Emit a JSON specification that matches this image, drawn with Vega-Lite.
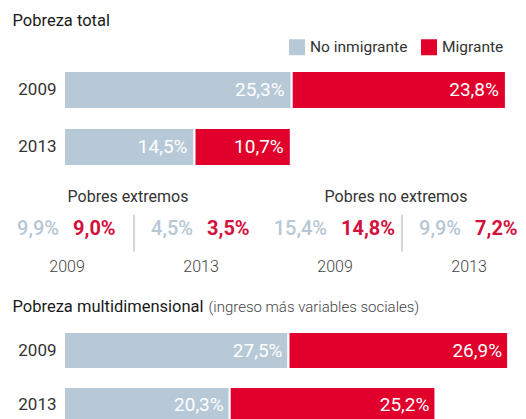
{
  "$schema": "https://vega.github.io/schema/vega-lite/v6.json",
  "padding": {"left": 0, "top": 12, "right": 0, "bottom": 0},
  "background": "white",
  "config": {
    "font": "Roboto",
    "view": {"stroke": null},
    "concat": {"spacing": 9}
  },
  "datasets": {
    "total": [
      {"anio": "2009", "serie": "No inmigrante", "v": 25.3},
      {"anio": "2009", "serie": "Migrante", "v": 23.8},
      {"anio": "2013", "serie": "No inmigrante", "v": 14.5},
      {"anio": "2013", "serie": "Migrante", "v": 10.7}
    ],
    "multi": [
      {"anio": "2009", "serie": "No inmigrante", "v": 27.5},
      {"anio": "2009", "serie": "Migrante", "v": 26.9},
      {"anio": "2013", "serie": "No inmigrante", "v": 20.3},
      {"anio": "2013", "serie": "Migrante", "v": 25.2}
    ],
    "pobres": [
      {"tipo": "Pobres extremos", "anio": "2009", "grupo": "E2009", "no": 9.9, "mig": 9.0},
      {"tipo": "Pobres extremos", "anio": "2013", "grupo": "E2013", "no": 4.5, "mig": 3.5},
      {"tipo": "Pobres no extremos", "anio": "2009", "grupo": "N2009", "no": 15.4, "mig": 14.8},
      {"tipo": "Pobres no extremos", "anio": "2013", "grupo": "N2013", "no": 9.9, "mig": 7.2}
    ]
  },
  "vconcat": [
    {
      "width": 450,
      "height": 95,
      "data": {"name": "total"},
      "transform": [{"calculate": "replace(format(datum.v, '.1f'), '.', ',') + '%'", "as": "lbl"}],
      "encoding": {
        "y": {"field": "anio", "type": "nominal", "scale": {"paddingInner": 0.333, "paddingOuter": 0},
          "axis": {"domain": false, "ticks": false, "labelPadding": 8, "labelFontSize": 17, "labelColor": "#333", "minExtent": 64, "maxExtent": 64,
            "title": "Pobreza total", "titleAngle": 0, "titleAlign": "left", "titleBaseline": "alphabetic", "titleX": -52, "titleY": -46,
            "titleFontSize": 16.5, "titleFontWeight": "normal", "titleColor": "#1a1a1a", "titlePadding": 0}},
        "x": {"field": "v", "type": "quantitative", "stack": "zero", "scale": {"domain": [0, 50]}, "axis": null},
        "order": {"field": "serie", "sort": "descending"}
      },
      "layer": [
        {
          "mark": {"type": "bar", "stroke": "white", "strokeWidth": 2},
          "encoding": {
            "color": {"field": "serie", "type": "nominal",
              "scale": {"domain": ["No inmigrante", "Migrante"], "range": ["#b7c9d6", "#e0002b"]},
              "legend": {"title": null, "orient": "none", "legendX": 225, "legendY": -32, "direction": "horizontal", "padding": 0,
                "symbolType": "square", "symbolSize": 256, "symbolStrokeWidth": 0, "symbolOpacity": 1,
                "labelFontSize": 15.5, "labelColor": "#333", "labelOffset": 5, "columnPadding": 13}}
          }
        },
        {
          "mark": {"type": "text", "align": "right", "dx": -7, "color": "white", "fontSize": 19},
          "encoding": {"text": {"field": "lbl"}, "detail": {"field": "serie"}}
        }
      ]
    },
    {
      "width": 462,
      "height": 113,
      "data": {"name": "pobres"},
      "transform": [
        {"calculate": "replace(format(datum.no, '.1f'), '.', ',') + '%'", "as": "lblNo"},
        {"calculate": "replace(format(datum.mig, '.1f'), '.', ',') + '%'", "as": "lblMig"}
      ],
      "encoding": {
        "x": {"field": "grupo", "type": "nominal", "axis": null,
          "scale": {"domain": ["E2009", "E2013", "N2009", "N2013"], "range": [-64, 472], "paddingInner": 0, "paddingOuter": 0}}
      },
      "layer": [
        {
          "transform": [{"filter": "datum.anio == '2013'"}],
          "mark": {"type": "text", "dx": -6, "dy": 4, "fontSize": 16, "color": "#333", "baseline": "middle"},
          "encoding": {
            "x": {"field": "grupo", "type": "nominal", "bandPosition": 0},
            "y": {"datum": "cat", "type": "nominal", "scale": {"type": "point", "domain": ["cat", "val", "year"], "padding": 0.614, "align": 0.407}, "axis": null},
            "text": {"field": "tipo"}
          }
        },
        {
          "transform": [{"filter": "datum.anio == '2013'"}],
          "mark": {"type": "rule", "color": "#aaa", "strokeWidth": 1, "yOffset": -14, "y2Offset": -12},
          "encoding": {
            "x": {"field": "grupo", "type": "nominal", "bandPosition": 0},
            "y": {"datum": "val", "type": "nominal"},
            "y2": {"datum": "year"}
          }
        },
        {
          "mark": {"type": "text", "align": "right", "dx": -8, "fontSize": 20, "fontWeight": 500, "color": "#b7c7d4", "baseline": "middle"},
          "encoding": {"y": {"datum": "val", "type": "nominal"}, "text": {"field": "lblNo"}}
        },
        {
          "mark": {"type": "text", "align": "left", "dx": 6, "fontSize": 20, "fontWeight": "bold", "color": "#d4103c", "baseline": "middle"},
          "encoding": {"y": {"datum": "val", "type": "nominal"}, "text": {"field": "lblMig"}}
        },
        {
          "mark": {"type": "text", "fontSize": 16, "fontWeight": 300, "color": "#444", "baseline": "middle", "dy": 3},
          "encoding": {"y": {"datum": "year", "type": "nominal"}, "text": {"field": "anio"}}
        }
      ]
    },
    {
      "width": 449,
      "height": 92,
      "data": {"name": "multi"},
      "transform": [{"calculate": "replace(format(datum.v, '.1f'), '.', ',') + '%'", "as": "lbl"}],
      "encoding": {
        "y": {"field": "anio", "type": "nominal", "scale": {"paddingInner": 0.327, "paddingOuter": 0},
          "axis": {"domain": false, "ticks": false, "labelPadding": 8, "labelFontSize": 17, "labelColor": "#333", "minExtent": 64, "maxExtent": 64,
            "title": "Pobreza multidimensional", "titleAngle": 0, "titleAlign": "left", "titleBaseline": "alphabetic", "titleX": -52, "titleY": -21,
            "titleFontSize": 16.5, "titleFontWeight": "normal", "titleColor": "#1a1a1a", "titlePadding": 0}},
        "x": {"field": "v", "type": "quantitative", "stack": "zero", "scale": {"domain": [0, 55]},
          "axis": {"orient": "top", "labels": false, "ticks": false, "domain": false, "grid": false,
            "title": "(ingreso más variables sociales)", "titleAnchor": "start", "titleAlign": "left", "titleX": 144, "titleY": -21,
            "titleBaseline": "alphabetic", "titleFontSize": 15, "titleFontWeight": 300, "titleColor": "#444", "titlePadding": 0}},
        "order": {"field": "serie", "sort": "descending"}
      },
      "layer": [
        {
          "mark": {"type": "bar", "stroke": "white", "strokeWidth": 2},
          "encoding": {
            "color": {"field": "serie", "type": "nominal",
              "scale": {"domain": ["No inmigrante", "Migrante"], "range": ["#b7c9d6", "#e0002b"]}, "legend": null}
          }
        },
        {
          "mark": {"type": "text", "align": "right", "dx": -6, "color": "white", "fontSize": 19},
          "encoding": {"text": {"field": "lbl"}, "detail": {"field": "serie"}}
        }
      ]
    }
  ]
}
